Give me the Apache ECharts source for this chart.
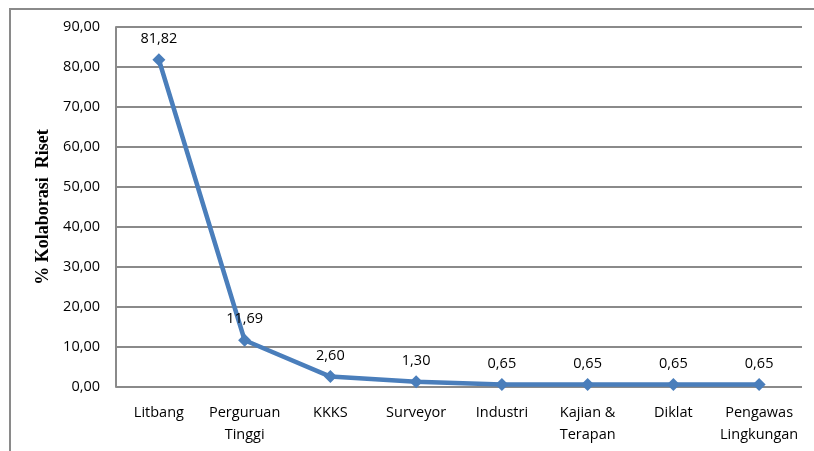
<!DOCTYPE html>
<html>
<head>
<meta charset="utf-8">
<script src="https://cdn.jsdelivr.net/npm/echarts@6/dist/echarts.min.js"></script>
<style>
  html, body { margin: 0; padding: 0; background: #fff; }
  #chart { width: 814px; height: 451px; }
</style>
</head>
<body>
<div id="chart"></div>
<script>
// Research collaboration share per partner group (%)
var categories = ['Litbang', 'Perguruan\nTinggi', 'KKKS', 'Surveyor', 'Industri', 'Kajian &\nTerapan', 'Diklat', 'Pengawas\nLingkungan'];
var collaboration = [81.82, 11.69, 2.60, 1.30, 0.65, 0.65, 0.65, 0.65];
var yTicks = [0, 10, 20, 30, 40, 50, 60, 70, 80, 90];

function fmt(v) { return v.toFixed(2).replace('.', ','); }

var chart = echarts.init(document.getElementById('chart'));
var labelFont = '"Open Sans", "Noto Sans", sans-serif';

chart.setOption({
  animation: false,
  backgroundColor: '#ffffff',
  grid: { left: 116, right: 12, top: 27, bottom: 64 },
  graphic: [
    // outer chart frame (top and left edges)
    { type: 'polyline', shape: { points: [[10, 451], [10, 9], [814, 9]] },
      style: { stroke: '#8a8a8a', lineWidth: 2, fill: null }, z: 1 }
  ],
  xAxis: {
    type: 'category',
    data: categories,
    boundaryGap: true,
    axisLine: { show: false },
    axisTick: { show: false },
    axisLabel: {
      interval: 0,
      color: '#000',
      fontFamily: labelFont,
      fontSize: 14.5,
      lineHeight: 22,
      margin: 15
    }
  },
  yAxis: {
    type: 'value',
    min: yTicks[0],
    max: yTicks[yTicks.length - 1],
    interval: 10,
    name: '% Kolaborasi  Riset',
    nameLocation: 'middle',
    nameGap: 59,
    nameTextStyle: {
      fontFamily: '"Liberation Serif", serif',
      fontWeight: 'bold',
      fontSize: 18,
      color: '#000'
    },
    axisLine: { show: true, lineStyle: { color: '#8a8a8a', width: 2 } },
    axisTick: { show: false },
    splitLine: { show: true, lineStyle: { color: '#8a8a8a', width: 2 } },
    axisLabel: {
      color: '#000',
      fontFamily: labelFont,
      fontSize: 14.5,
      margin: 16,
      formatter: function (v) { return fmt(v); }
    }
  },
  series: [{
    type: 'line',
    data: collaboration,
    lineStyle: { color: '#4a7ebb', width: 4.5 },
    itemStyle: { color: '#4a7ebb' },
    symbol: 'diamond',
    symbolSize: 13,
    label: {
      show: true,
      position: 'top',
      distance: 7,
      color: '#000',
      fontFamily: labelFont,
      fontSize: 14.5,
      formatter: function (p) { return fmt(p.value); }
    },
    z: 3
  }]
});
</script>
</body>
</html>
